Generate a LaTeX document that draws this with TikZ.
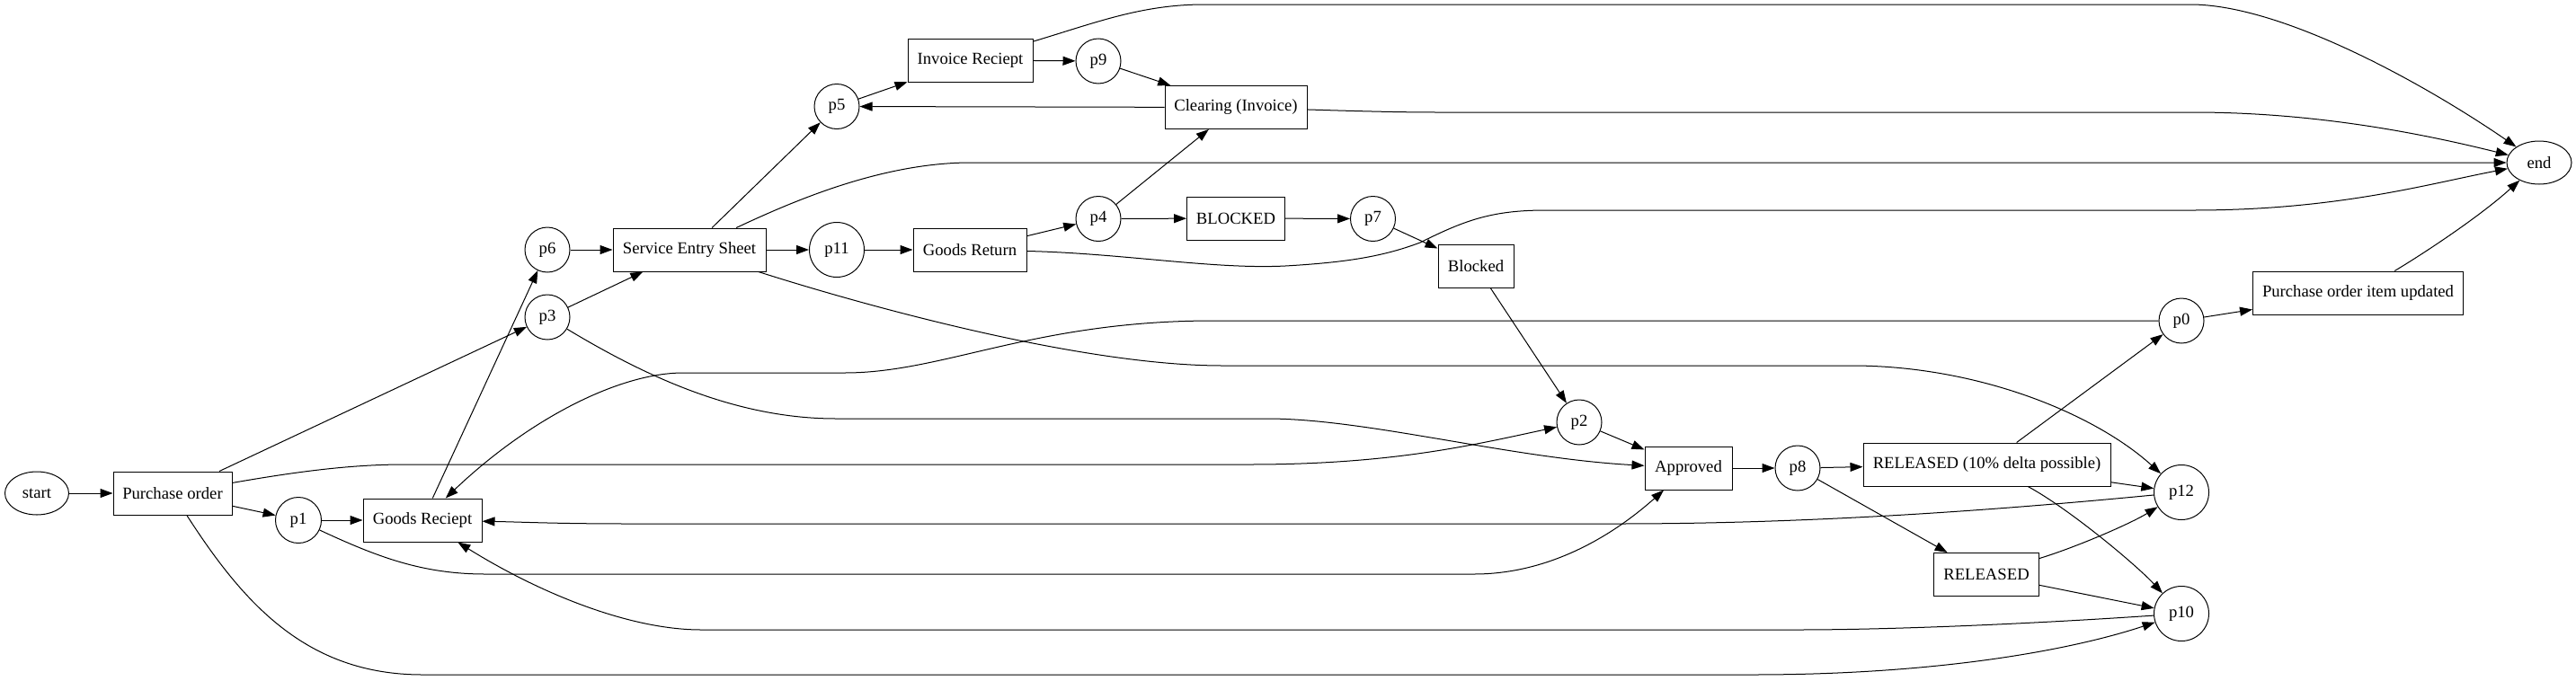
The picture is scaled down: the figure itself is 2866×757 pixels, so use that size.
\documentclass[tikz,border=0pt]{standalone}
\usepackage{fontspec}
\setmainfont{Liberation Serif}
\usetikzlibrary{arrows.meta,shapes.geometric}
\begin{document}
\begin{tikzpicture}[x=0.75pt,y=-0.75pt,
  every node/.style={font=\fontsize{14pt}{16pt}\selectfont, line width=0.75pt},
  trans/.style={draw, rectangle, minimum height=36pt, inner sep=0pt},
  place/.style={draw, circle, inner sep=0pt, minimum size=37.5pt},
  bigplace/.style={draw, circle, inner sep=0pt, minimum size=45.75pt},
  term/.style={draw, ellipse, inner sep=0pt, minimum height=36pt},
  arr/.style={line width=0.75pt, -{Triangle[length=10.5pt,width=7.5pt]}}
]
\useasboundingbox (0,0) rectangle (2866,757);

% nodes
\node[term, minimum width=53.25pt] (startn) at (41,549) {start};
\node[trans, minimum width=99pt] (po) at (192,549) {Purchase order};
\node[place, minimum size=38.25pt] (p1) at (332,579) {p1};
\node[trans, minimum width=99pt] (gr) at (470,579) {Goods Reciept};
\node[place] (p6) at (609,278) {p6};
\node[place] (p3) at (609,353) {p3};
\node[trans, minimum width=127.5pt] (ses) at (767,278) {Service Entry Sheet};
\node[bigplace] (p11) at (931,278) {p11};
\node[trans, minimum width=94.5pt] (gret) at (1079,278) {Goods Return};
\node[place] (p5) at (931,118.5) {p5};
\node[trans, minimum width=104.25pt] (ir) at (1079.5,67) {Invoice Reciept};
\node[place] (p9) at (1222,68) {p9};
\node[trans, minimum width=118.5pt] (clr) at (1375,119.5) {Clearing (Invoice)};
\node[place] (p4) at (1222,243.5) {p4};
\node[trans, minimum width=81.75pt] (blkA) at (1375,243) {BLOCKED};
\node[place] (p7) at (1527.5,243.5) {p7};
\node[trans, minimum width=63pt] (blkB) at (1642,296) {Blocked};
\node[place] (p2) at (1757,470) {p2};
\node[trans, minimum width=72.75pt] (appr) at (1878.5,521) {Approved};
\node[place] (p8) at (2000,521) {p8};
\node[trans, minimum width=206.25pt] (relten) at (2210.5,517) {RELEASED (10\% delta possible)};
\node[trans, minimum width=87.75pt] (rel) at (2210,639.5) {RELEASED};
\node[bigplace] (p12) at (2427,548) {p12};
\node[bigplace] (p10) at (2427,683) {p10};
\node[place] (p0) at (2427,357) {p0};
\node[trans, minimum width=175.5pt] (poiu) at (2623.5,326) {Purchase order item updated};
\node[term, minimum width=54pt] (endn) at (2825,181) {end};

% straight arcs
\draw[arr] (startn) -- (po);
\draw[arr] (po) -- (p1);
\draw[arr] (po) -- (p3);
\draw[arr] (p1) -- (gr);
\draw[arr] (gr) -- (p6);
\draw[arr] (p6) -- (ses);
\draw[arr] (p3) -- (ses);
\draw[arr] (ses) -- (p5);
\draw[arr] (ses) -- (p11);
\draw[arr] (p11) -- (gret);
\draw[arr] (p5) -- (ir);
\draw[arr] (ir) -- (p9);
\draw[arr] (p9) -- (clr);
\draw[arr] (clr) -- (p5);
\draw[arr] (gret) -- (p4);
\draw[arr] (p4) -- (clr);
\draw[arr] (p4) -- (blkA);
\draw[arr] (blkA) -- (p7);
\draw[arr] (p7) -- (blkB);
\draw[arr] (blkB) -- (p2);
\draw[arr] (p2) -- (appr);
\draw[arr] (appr) -- (p8);
\draw[arr] (p8) -- (relten);
\draw[arr] (p8) -- (rel);
\draw[arr] (relten) -- (p0);
\draw[arr] (relten) -- (p12);
\draw[arr] (rel) -- (p10);
\draw[arr] (p0) -- (poiu);

% curved arcs
\draw[arr] (po) .. controls (330,525) and (390,517) .. (450,517) -- (1390,517) .. controls (1550,517) and (1640,495) .. (p2);
\draw[arr] (po) .. controls (270,670) and (340,751) .. (470,751) -- (1950,751) .. controls (2150,751) and (2300,725) .. (p10);
\draw[arr] (p1) .. controls (420,620) and (470,639) .. (540,639) -- (1640,639) .. controls (1720,639) and (1790,600) .. (appr);
\draw[arr] (p3) .. controls (720,420) and (820,466) .. (930,466) -- (1410,466) .. controls (1520,466) and (1680,510) .. (appr);
\draw[arr] (p0) -- (1350,357) .. controls (1150,357) and (1050,415) .. (940,415) -- (760,415) .. controls (690,415) and (590,465) .. (gr);
\draw[arr] (p12) .. controls (2200,570) and (2000,583) .. (1800,583) -- (700,583) .. controls (620,583) and (580,581) .. (gr);
\draw[arr] (p10) .. controls (2250,695) and (2100,701) .. (2000,701) -- (780,701) .. controls (700,701) and (600,660) .. (gr);
\draw[arr] (ses) .. controls (955,338) and (1200,407) .. (1360,407) -- (2060,407) .. controls (2200,407) and (2330,460) .. (p12);
\draw[arr] (ses) .. controls (880,225) and (980,181) .. (1080,181) -- (endn);
\draw[arr] (ir) .. controls (1220,25) and (1270,5) .. (1340,5) -- (2437,5) .. controls (2540,5) and (2700,95) .. (endn);
\draw[arr] (clr) .. controls (1520,124) and (1560,125) .. (1600,125) -- (2440,125) .. controls (2580,125) and (2700,150) .. (endn);
\draw[arr] (gret) .. controls (1250,282) and (1350,300) .. (1430,296) .. controls (1500,292) and (1540,285) .. (1580,270) .. controls (1630,245) and (1660,234) .. (1720,234) -- (2440,234) .. controls (2600,234) and (2700,205) .. (endn);
\draw[arr] (relten) .. controls (2300,565) and (2375,627) .. (p10);
\draw[arr] (rel) .. controls (2310,609) and (2370,583) .. (p12);
\draw[arr] (poiu) .. controls (2700,280) and (2760,240) .. (endn);
\end{tikzpicture}
\end{document}
